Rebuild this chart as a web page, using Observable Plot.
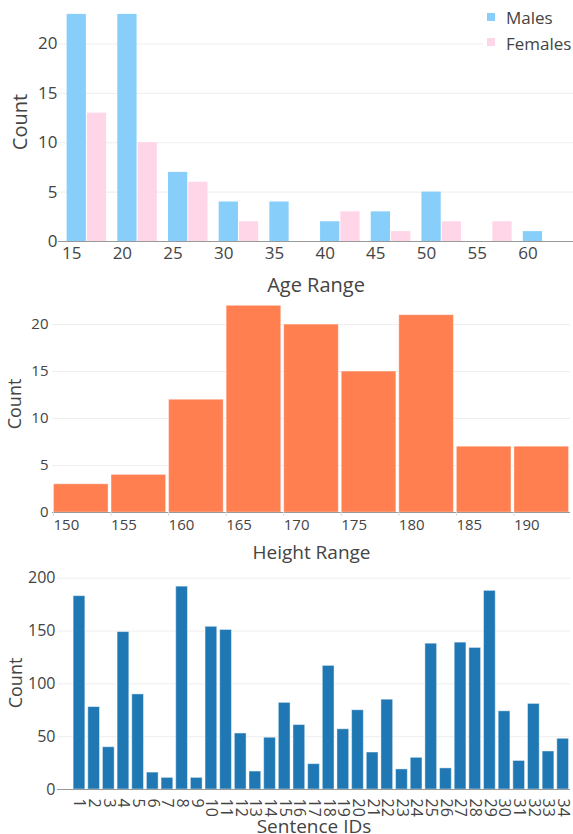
<!DOCTYPE html>
<html>
<head>
<meta charset="utf-8">
<script src="https://cdn.jsdelivr.net/npm/d3@7"></script>
<script src="https://cdn.jsdelivr.net/npm/@observablehq/plot@0.6"></script>
<style>
  html, body { margin: 0; padding: 0; background: white; }
  #charts svg { display: block; overflow: visible; }
</style>
</head>
<body>
<div id="charts"></div>
<script>
// ---- Chart 1: age histogram (grouped) ----
const ageBinStarts = [14, 19, 24, 29, 34, 39, 44, 49, 54, 59];
const malesCounts = [23, 23, 7, 4, 4, 2, 3, 5, 0, 1];
const femalesCounts = [13, 10, 6, 2, 0, 3, 1, 2, 2, 0];
const ageTicks = [15, 20, 25, 30, 35, 40, 45, 50, 55, 60];
const sexes = ["Males", "Females"];
const sexColors = ["#87CEFA", "#FFD6E8"];

// ---- Chart 2: height histogram ----
const heightBinStarts = [150, 155, 160, 165, 170, 175, 180, 185, 190];
const heightCounts = [3, 4, 12, 22, 20, 15, 21, 7, 7];
const heightTicks = [150, 155, 160, 165, 170, 175, 180, 185, 190];
const heightColor = "#FF7F50";

// ---- Chart 3: sentence counts ----
const sentenceIds = [1,2,3,4,5,6,7,8,9,10,11,12,13,14,15,16,17,18,19,20,21,22,23,24,25,26,27,28,29,30,31,32,33,34];
const sentenceCounts = [183,78,40,149,90,16,11,192,11,154,151,53,17,49,82,61,24,117,57,75,35,85,19,30,138,20,139,134,188,74,27,81,36,48];
const sentenceColor = "#1f77b4";

const countTicksSmall = [0, 5, 10, 15, 20];
const countTicksLarge = [0, 50, 100, 150, 200];

const font = "'Open Sans', 'Noto Sans', sans-serif";
const grey = "#444";

// Build tables
const ageData = ageBinStarts.flatMap((b, i) => [
  {sex: sexes[0], bin: b, count: malesCounts[i], slot: 0},
  {sex: sexes[1], bin: b, count: femalesCounts[i], slot: 1}
]).filter(d => d.count > 0);
const heightData = heightBinStarts.map((b, i) => ({bin: b, count: heightCounts[i]}));
const sentenceData = sentenceIds.map((id, i) => ({id, count: sentenceCounts[i]}));

const container = document.getElementById("charts");

const titleOpts = {frameAnchor: "bottom", lineAnchor: "middle", textAnchor: "middle", fill: grey};
const yTitleOpts = {frameAnchor: "left", lineAnchor: "middle", textAnchor: "middle", rotate: -90, fill: grey};

// Chart 1
const chart1 = Plot.plot({
  width: 573, height: 294,
  marginTop: 2, marginBottom: 53, marginLeft: 58, marginRight: 0,
  style: {fontFamily: font, fontSize: "17px", color: grey, background: "transparent", overflow: "visible"},
  x: {domain: [13.7, 64.5]},
  y: {domain: [0, 24.2]},
  color: {domain: sexes, range: sexColors},
  marks: [
    Plot.gridY(countTicksSmall.slice(1), {stroke: "#eee", strokeOpacity: 1}),
    Plot.rectY(ageData, {
      x1: d => d.bin + 0.5 + d.slot * 2,
      x2: d => d.bin + 2.5 + d.slot * 2,
      y1: 0, y2: "count", fill: "sex",
      insetLeft: 0.5, insetRight: 0.5
    }),
    Plot.ruleY([0], {stroke: "#999"}),
    Plot.axisX(ageTicks, {tickSize: 0, tickPadding: 5, label: null}),
    Plot.axisY(countTicksSmall, {tickSize: 0, tickPadding: 1, label: null}),
    Plot.text(["Age Range"], {...titleOpts, dy: 44, fontSize: 20}),
    Plot.text(["Count"], {...yTitleOpts, dx: -38, fontSize: 20})
  ]
});
container.appendChild(chart1);

// Legend for chart 1
{
  const svg = d3.select(chart1);
  const g = svg.append("g").attr("font-family", font).attr("font-size", 17).attr("text-anchor", "start");
  g.append("rect").attr("x", 483).attr("y", 3).attr("width", 90).attr("height", 54).attr("fill", "white");
  sexes.forEach((s, i) => {
    g.append("rect").attr("x", 487).attr("y", 13 + i * 25).attr("width", 8).attr("height", 8).attr("fill", sexColors[i]);
    g.append("text").attr("x", 506).attr("y", 24 + i * 25.5).attr("fill", grey).attr("text-anchor", "start").text(s);
  });
}

// Chart 2
const chart2 = Plot.plot({
  width: 573, height: 271,
  marginTop: 1, marginBottom: 53, marginLeft: 52, marginRight: 3,
  style: {fontFamily: font, fontSize: "15px", color: grey, background: "transparent", overflow: "visible"},
  x: {domain: [150, 195]},
  y: {domain: [0, 23.1]},
  marks: [
    Plot.gridY(countTicksSmall.slice(1), {stroke: "#eee", strokeOpacity: 1}),
    Plot.rectY(heightData, {
      x1: "bin", x2: d => d.bin + 5, y1: 0, y2: "count",
      fill: heightColor, stroke: "white", strokeOpacity: 0.35,
      insetLeft: 1.5, insetRight: 1.5
    }),
    Plot.ruleY([0], {stroke: "#999"}),
    Plot.axisX(heightTicks, {tickSize: 4, tickPadding: 3, stroke: "#ddd", fill: grey, textAnchor: "start", dx: 1, label: null}),
    Plot.axisY(countTicksSmall, {tickSize: 0, tickPadding: 4, label: null}),
    Plot.text(["Height Range"], {...titleOpts, dy: 40, fontSize: 19}),
    Plot.text(["Count"], {...yTitleOpts, dx: -37, fontSize: 18})
  ]
});
container.appendChild(chart2);

// Chart 3
const chart3 = Plot.plot({
  width: 573, height: 269,
  marginTop: 11, marginBottom: 45, marginLeft: 57, marginRight: 3,
  style: {fontFamily: font, fontSize: "16px", color: grey, background: "transparent", overflow: "visible"},
  x: {domain: [-0.5, 34.5]},
  y: {domain: [0, 201.6]},
  marks: [
    Plot.gridY(countTicksLarge.slice(1), {stroke: "#eee", strokeOpacity: 1}),
    Plot.rectY(sentenceData, {
      x1: d => d.id - 0.4, x2: d => d.id + 0.4, y1: 0, y2: "count",
      fill: sentenceColor, stroke: "white", strokeOpacity: 0.45
    }),
    Plot.ruleY([0], {stroke: "#999"}),
    Plot.axisX(sentenceIds, {tickSize: 0, tickPadding: 9, tickRotate: 90, label: null}),
    Plot.axisY(countTicksLarge, {tickSize: 0, tickPadding: 2, label: null}),
    Plot.text(["Sentence IDs"], {...titleOpts, dy: 37.5, fontSize: 19}),
    Plot.text(["Count"], {...yTitleOpts, dx: -41.5, fontSize: 18})
  ]
});
container.appendChild(chart3);
</script>
</body>
</html>
